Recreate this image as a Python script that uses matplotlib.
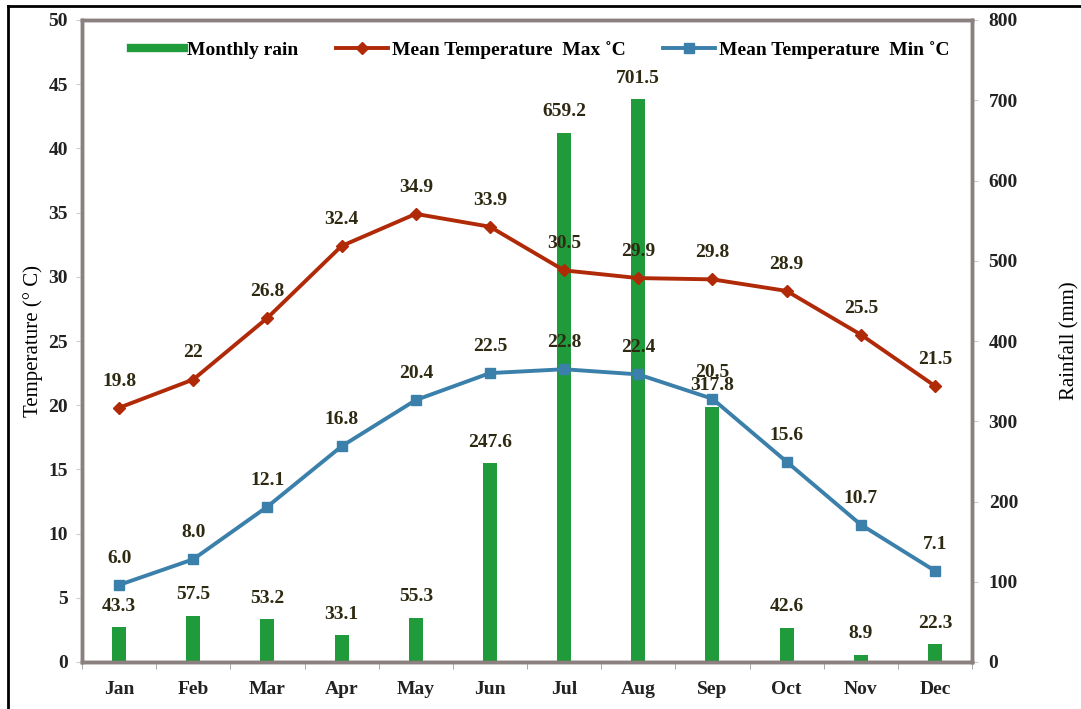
import numpy as np
import matplotlib.pyplot as plt
from matplotlib.lines import Line2D

# Monthly data
Months = ["Jan", "Feb", "Mar", "Apr", "May", "Jun", "Jul", "Aug", "Sep", "Oct", "Nov", "Dec"]
RainMM = [43.3, 57.5, 53.2, 33.1, 55.3, 247.6, 659.2, 701.5, 317.8, 42.6, 8.9, 22.3]
TempMax = [19.8, 22, 26.8, 32.4, 34.9, 33.9, 30.5, 29.9, 29.8, 28.9, 25.5, 21.5]
TempMin = [6.0, 8.0, 12.1, 16.8, 20.4, 22.5, 22.8, 22.4, 20.5, 15.6, 10.7, 7.1]
TempTicks = [0, 5, 10, 15, 20, 25, 30, 35, 40, 45, 50]
RainTicks = [0, 100, 200, 300, 400, 500, 600, 700, 800]

plt.rcParams['font.family'] = ['Liberation Serif', 'DejaVu Serif']

BgYellow = "#fdfb9f"
GreenBar = "#1f9b3c"
RedLine = "#b02a08"
BlueLine = "#3a80ab"
LabelCol = "#2e2a12"
FS = 14

fig = plt.figure(figsize=(10.81, 7.09), dpi=100)
ax = fig.add_axes([82/1081, 1 - 662/709, 890/1081, 642/709])
ax2 = ax.twinx()
ax.set_zorder(ax2.get_zorder() + 1)
ax.patch.set_visible(False)
ax2.set_facecolor(BgYellow)

x = np.arange(len(Months))

# rain bars (right axis)
ax2.bar(x, RainMM, width=0.19, color=GreenBar, zorder=2, label="Monthly rain")
for xi, r in zip(x, RainMM):
    ax2.annotate(f"{r:.1f}", (xi, r), xytext=(0, 9), textcoords="offset points",
                 ha="center", va="bottom", fontsize=FS, fontweight="bold", color=LabelCol)
ax2.set_ylim(0, 800)
ax2.set_yticks(RainTicks)

# temperature lines (left axis)
ax.plot(x, TempMax, color=RedLine, lw=2.8, marker="D", ms=6, label="Mean Temperature  Max \u02daC")
ax.plot(x, TempMin, color=BlueLine, lw=2.8, marker="s", ms=7, label="Mean Temperature  Min \u02daC")
for xi, t in zip(x, TempMax):
    ax.annotate(f"{t:g}", (xi, t), xytext=(0, 13), textcoords="offset points",
                ha="center", va="bottom", fontsize=FS, fontweight="bold", color=LabelCol)
for xi, t in zip(x, TempMin):
    ax.annotate(f"{t:.1f}", (xi, t), xytext=(0, 13), textcoords="offset points",
                ha="center", va="bottom", fontsize=FS, fontweight="bold", color=LabelCol)
ax.set_ylim(0, 50)
ax.set_yticks(TempTicks)
ax.set_xlim(-0.5, 11.5)

# category labels at centres, tick marks at boundaries
ax.set_xticks(x)
ax.set_xticklabels(Months)
ax.set_xticks(np.arange(-0.5, 12, 1), minor=True)
ax.tick_params(axis="x", which="major", length=0, pad=14)
ax.tick_params(axis="x", which="minor", length=5, color="#999999")
ax2.tick_params(axis="x", which="both", length=0)
ax.tick_params(axis="y", length=4, color="#cccccc", pad=6)
ax2.tick_params(axis="y", length=4, color="#cccccc", pad=8)
for lab in ax.get_xticklabels() + ax.get_yticklabels() + ax2.get_yticklabels():
    lab.set_fontweight("bold")
    lab.set_fontsize(FS)
    lab.set_color("#222222")

ax.set_ylabel("Temperature (\u00b0 C)", fontsize=15, labelpad=4)
ax2.set_ylabel("Rainfall (mm)", fontsize=15, labelpad=30)

for a in (ax, ax2):
    for s in a.spines.values():
        s.set_linewidth(2.5)
        s.set_color("#8a8080")
ax2.spines["bottom"].set_color("#7a6a50")

# legend
h2, l2 = ax.get_legend_handles_labels()
ax.legend([Line2D([0], [0], color=GreenBar, lw=6)] + h2, ["Monthly rain"] + l2,
          loc="upper center", bbox_to_anchor=(0.515, 0.995), ncol=3, frameon=False,
          handlelength=2.7, columnspacing=1.9, handletextpad=0.2,
          prop={"weight": "bold", "size": FS})

# outer black frame (clipped at right/bottom like the source image)
fig.add_artist(Line2D([8/1081, 1.0], [1 - 6/709, 1 - 6/709], color="black", lw=2))
fig.add_artist(Line2D([8/1081, 8/1081], [1 - 6/709, 0.0], color="black", lw=2))

fig.savefig("out.png", dpi=100)
